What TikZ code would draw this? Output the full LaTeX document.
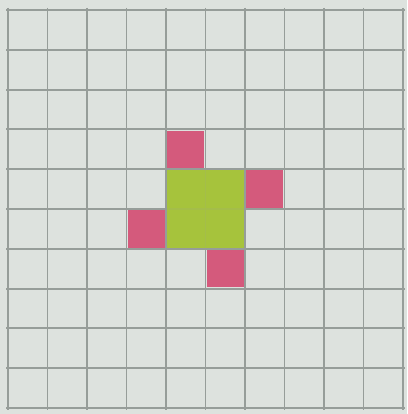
\documentclass[tikz,border=0pt]{standalone}
\definecolor{paper}{RGB}{221,226,222}
\definecolor{gridline}{RGB}{150,157,153}
\definecolor{pinkcell}{RGB}{212,90,124}
\definecolor{greencell}{RGB}{166,195,60}
\begin{document}
\begin{tikzpicture}[x=1pt,y=-1pt,
  gridstyle/.style={draw=gridline,line width=1.9pt},
  pinkbox/.style={fill=pinkcell},
  greenbox/.style={fill=greencell}]
\fill[paper] (0,0) rectangle (407,414);
\useasboundingbox (0,0) rectangle (407,414);
% grid
\foreach \i in {0,...,10} {
  \draw[gridstyle] ({8+39.5*\i},8) -- ({8+39.5*\i},410);
  \draw[gridstyle] (6,{10+39.8*\i}) -- (405,{10+39.8*\i});
}
% cells: column c, row r -> (8+39.5c, 10+39.8r)
\newcommand{\cellfill}[3]{\fill[#3] ({8+39.5*#1+1.2},{10+39.8*#2+1.2}) rectangle ({8+39.5*(#1+1)-1.2},{10+39.8*(#2+1)-1.2});}
\cellfill{4}{3}{pinkbox}
\cellfill{6}{4}{pinkbox}
\cellfill{3}{5}{pinkbox}
\cellfill{5}{6}{pinkbox}
\fill[greenbox] ({8+39.5*4+1.2},{10+39.8*4+1.2}) rectangle ({8+39.5*6-1.2},{10+39.8*6-1.2});
\draw[greencell!85!gridline,line width=1.5pt] ({8+39.5*5},{10+39.8*4+1.2}) -- ({8+39.5*5},{10+39.8*6-1.2});
\draw[greencell!85!gridline,line width=1.5pt] ({8+39.5*4+1.2},{10+39.8*5}) -- ({8+39.5*6-1.2},{10+39.8*5});
\end{tikzpicture}
\end{document}
